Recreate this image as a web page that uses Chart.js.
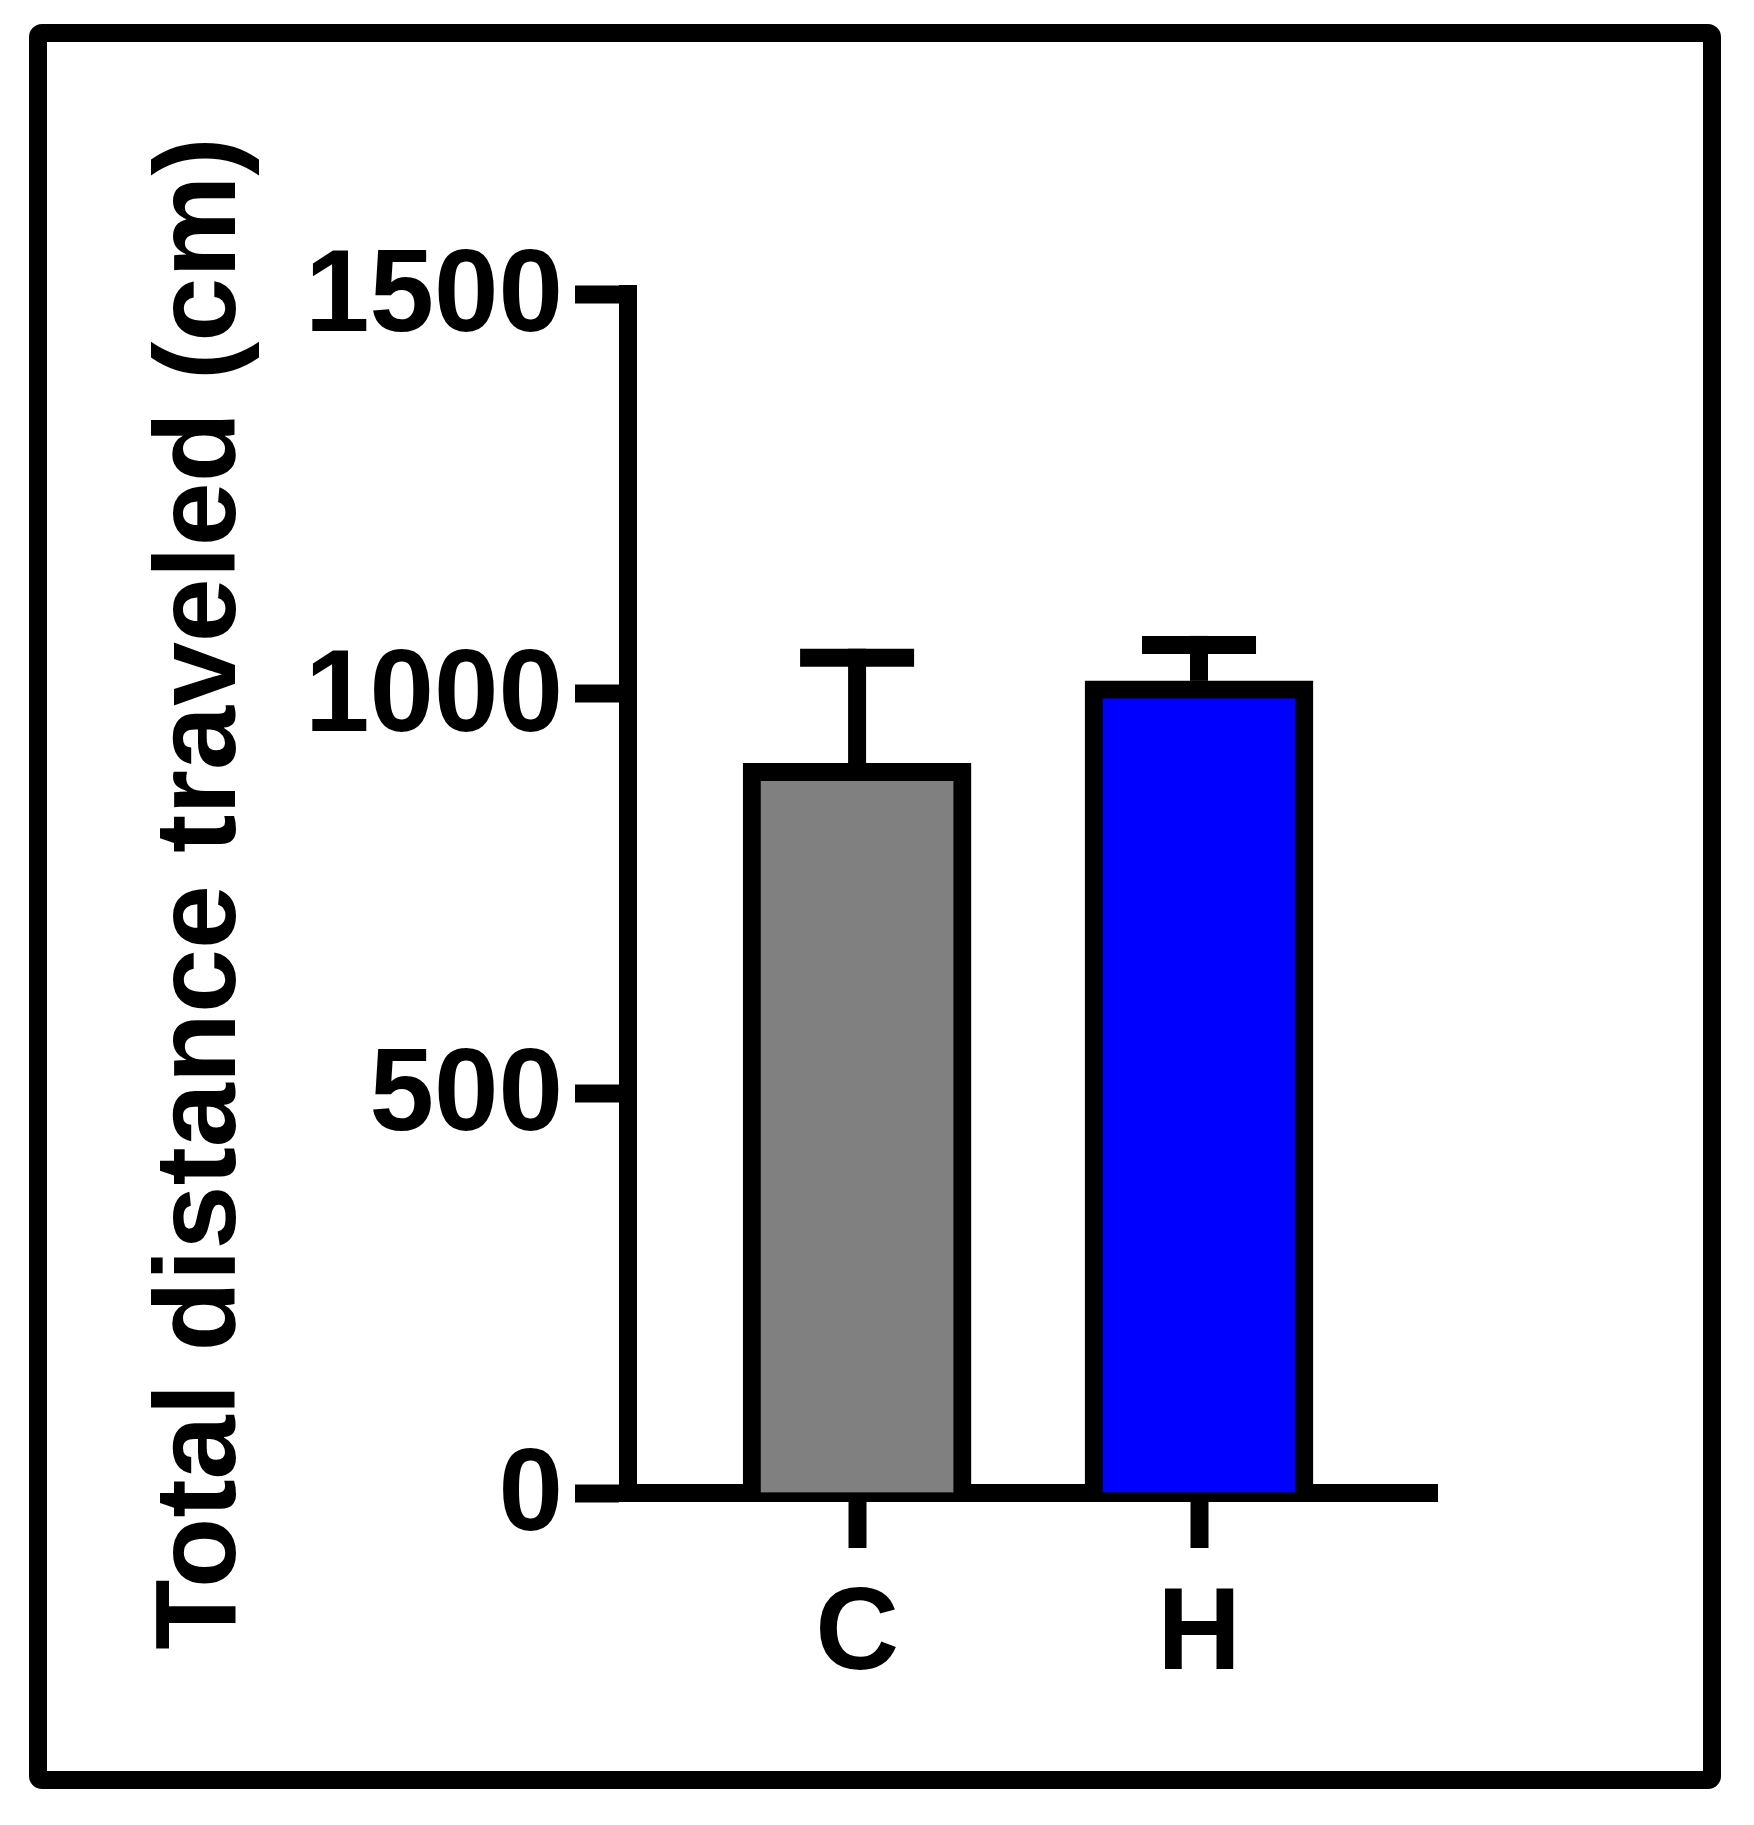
<!DOCTYPE html>
<html>
<head>
<meta charset="utf-8">
<script src="https://cdn.jsdelivr.net/npm/chart.js@4"></script>
<style>
  body { margin: 0; background: #fff; }
  canvas { display: block; }
</style>
</head>
<body>
<canvas id="myChart" width="1754" height="1825"></canvas>
<script>
var groups = ['C', 'H'];
var means = [913, 1016];
var sems = [132, 45];
var barColors = ['#808080', '#0000ff'];
var yTicks = [0, 500, 1000, 1500];

var font = { family: "Arial, 'Liberation Sans', sans-serif", size: 116, weight: 'bold' };

// upper error bars only, like the original figure
var errorBars = {
    id: 'errorBars',
    afterDatasetsDraw: function(chart) {
        var ctx = chart.ctx;
        var xs = chart.scales.x, ys = chart.scales.y;
        ctx.save();
        ctx.strokeStyle = '#000';
        ctx.lineWidth = 18;
        ctx.lineCap = 'butt';
        means.forEach(function(m, i) {
            var x = xs.getPixelForValue(i + 1);
            var yBar = ys.getPixelForValue(m);
            var yTop = ys.getPixelForValue(m + sems[i]);
            ctx.beginPath();
            ctx.moveTo(x, yBar);
            ctx.lineTo(x, yTop - 9);
            ctx.stroke();
            ctx.beginPath();
            ctx.moveTo(x - 57, yTop);
            ctx.lineTo(x + 57, yTop);
            ctx.stroke();
        });
        ctx.restore();
    }
};

var frame = {
    id: 'frame',
    afterDraw: function(chart) {
        var ctx = chart.ctx;
        ctx.save();
        ctx.strokeStyle = '#000';
        ctx.lineWidth = 18;
        ctx.beginPath();
        ctx.roundRect(38, 33, 1674, 1747, 4);
        ctx.stroke();
        ctx.restore();
    }
};

var ctx = document.getElementById('myChart').getContext('2d');
var myChart = new Chart(ctx, {
    type: 'bar',
    data: {
        datasets: [{
            data: means.map(function(m, i) { return { x: i + 1, y: m }; }),
            backgroundColor: barColors,
            borderColor: '#000',
            borderWidth: 18,
            barThickness: 228
        }]
    },
    options: {
        responsive: false,
        animation: false,
        layout: { padding: { top: 294, right: 317, bottom: 132, left: 0 } },
        plugins: { legend: { display: false }, tooltip: { enabled: false } },
        scales: {
            x: {
                type: 'linear',
                min: 0.33,
                max: 2.696,
                offset: false,
                afterBuildTicks: function(scale) {
                    scale.ticks = groups.map(function(g, i) { return { value: i + 1 }; });
                },
                afterFit: function(scale) { scale.height = 200; },
                ticks: {
                    color: '#000',
                    font: font,
                    padding: 19,
                    maxRotation: 0,
                    callback: function(v) { return groups[v - 1]; }
                },
                grid: {
                    offset: false,
                    drawOnChartArea: false,
                    drawTicks: true,
                    tickLength: 55,
                    tickWidth: 18,
                    color: '#000'
                },
                border: { display: true, color: '#000', width: 18 }
            },
            y: {
                min: 0,
                max: 1500,
                afterBuildTicks: function(scale) {
                    scale.ticks = yTicks.map(function(v) { return { value: v }; });
                },
                afterFit: function(scale) { scale.width = 628; },
                ticks: {
                    color: '#000',
                    font: font,
                    padding: 12,
                    labelOffset: 5,
                    callback: function(v) { return String(v); }
                },
                grid: {
                    drawOnChartArea: false,
                    drawTicks: true,
                    tickLength: 53,
                    tickWidth: 18,
                    color: '#000'
                },
                border: { display: true, color: '#000', width: 18 },
                title: {
                    display: true,
                    text: 'Total distance traveled (cm)',
                    color: '#000',
                    font: { family: font.family, size: 115, weight: 'bold' },
                    padding: { top: 134, bottom: 0 }
                }
            }
        }
    },
    plugins: [errorBars, frame]
});
</script>
</body>
</html>
